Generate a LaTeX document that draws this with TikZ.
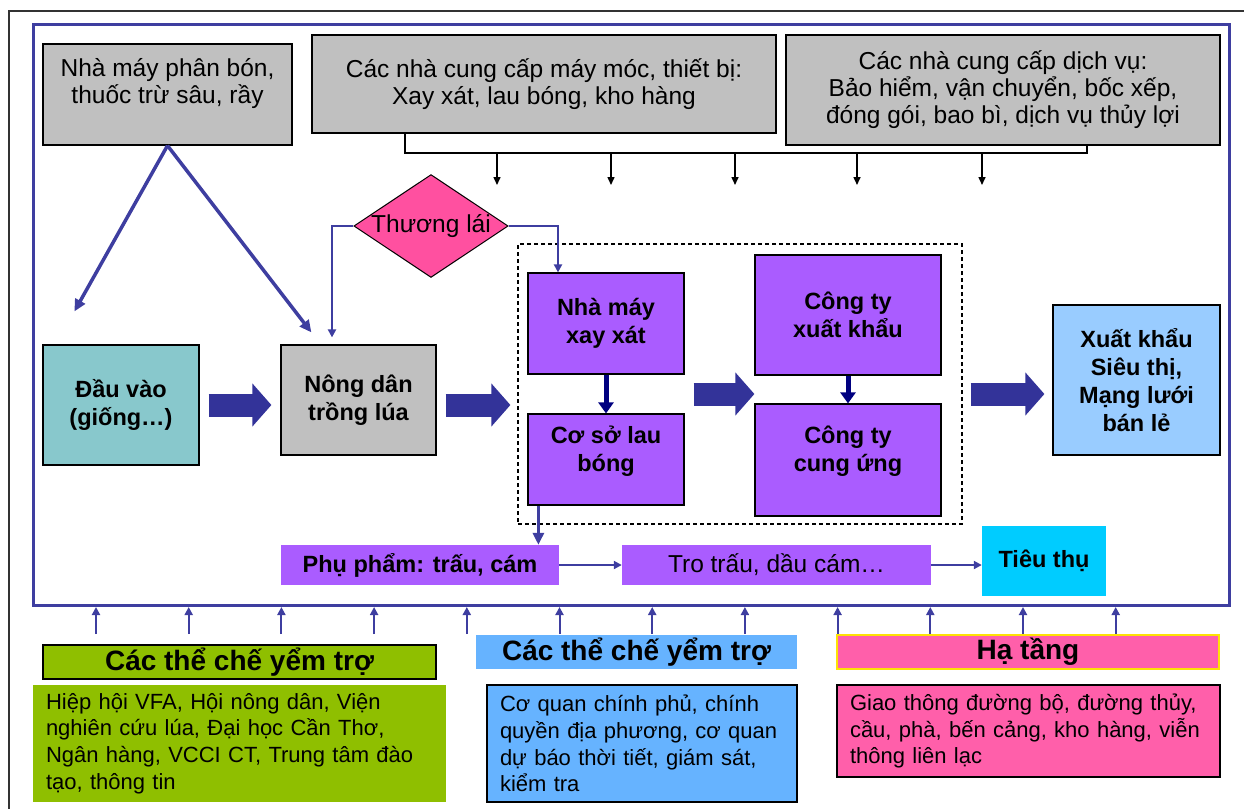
\documentclass[tikz,border=0pt]{standalone}
\usepackage{fontspec}
\setmainfont{Liberation Sans}
\usetikzlibrary{shapes.geometric,arrows.meta,calc}

\definecolor{boxgray}{RGB}{192,192,192}
\definecolor{seedteal}{RGB}{136,200,204}
\definecolor{millpurple}{RGB}{170,92,255}
\definecolor{retailblue}{RGB}{153,204,255}
\definecolor{usecyan}{RGB}{0,204,255}
\definecolor{traderpink}{RGB}{255,80,160}
\definecolor{infrapink}{RGB}{255,95,170}
\definecolor{supgreen}{RGB}{143,191,0}
\definecolor{govblue}{RGB}{102,179,255}
\definecolor{frameblue}{RGB}{62,62,160}
\definecolor{blockblue}{RGB}{51,51,153}
\definecolor{navyline}{RGB}{0,0,128}

\tikzset{
  normtext/.style={font=\fontsize{24.5}{27}\selectfont},
  boldtext/.style={font=\fontsize{23.5}{28}\selectfont\bfseries},
  box/.style={draw=black, line width=1.2pt, inner sep=2pt, align=center, normtext},
  bbox/.style={box, boldtext},
  plainbox/.style={inner sep=2pt, align=center},
  lbl/.style={inner sep=0pt, line width=1.2pt, align=center, font=\fontsize{28}{30}\selectfont\bfseries},
  body/.style={inner xsep=0pt, inner ysep=2pt, line width=1.2pt, align=left, font=\fontsize{22}{26.7}\selectfont},
  blockarr/.style={draw=blockblue, line width=23pt, -{Triangle[length=19pt,width=42pt]}},
  thinarr/.style={draw=frameblue, line width=2pt, -{Triangle[length=8pt,width=8pt]}},
  fatarr/.style={draw=frameblue, line width=3.5pt, -{Triangle[length=12pt,width=11pt]}},
  navyarr/.style={draw=navyline, line width=5pt, -{Triangle[length=11pt,width=15pt]}},
  blackarr/.style={draw=black, line width=1.5pt, -{Triangle[length=8pt,width=7pt]}}
}

\begin{document}
\begin{tikzpicture}[x=1pt,y=-1pt]
\useasboundingbox (0,0) rectangle (1244,809);
\draw[line width=1.2pt, black!80] (1244,11) -- (9,11) -- (9,809);
\node[draw=frameblue, line width=3pt, minimum width=1196, minimum height=581, inner sep=0] (frame) at (631,314.5) {};

\node[box, fill=boxgray, minimum width=249, minimum height=101] (nmpb) at (167.5,94.5) {Nhà máy phân bón,\\ thuốc trừ sâu, rầy\\ \mbox{}};
\node[box, fill=boxgray, minimum width=464, minimum height=98] (mmtb) at (544,84) {Các nhà cung cấp máy móc, thiết bị:\\ Xay xát, lau bóng, kho hàng};
\node[box, fill=boxgray, minimum width=434, minimum height=110] (dvu) at (1003,90) {Các nhà cung cấp dịch vụ:\\ Bảo hiểm, vận chuyển, bốc xếp,\\ đóng gói, bao bì, dịch vụ thủy lợi};

\coordinate (brL) at (405,153);
\coordinate (brR) at (1087,153);
\draw[line width=2.5pt] (mmtb.south -| brL) -- (brL) -- (brR) -- (dvu.south -| brR);
\foreach \x in {497,611,735,857,982}
  \draw[blackarr] (\x,153) -- (\x,185);

\node[diamond, aspect=1.5, draw=black, line width=1pt, fill=traderpink, minimum width=154, minimum height=102, inner sep=0, normtext] (tl) at (431,226) {Thương lái};

\node[bbox, fill=seedteal, minimum width=156, minimum height=120] (dauvao) at (121,405) {Đầu vào\\ (giống…)};
\node[bbox, fill=boxgray, minimum width=155, minimum height=110] (nongdan) at (358.5,400) {Nông dân\\ trồng lúa};
\node[draw, line width=1.2pt, dash pattern=on 4pt off 3pt, minimum width=444, minimum height=280, inner sep=0] (chain) at (740,384) {};
\node[bbox, fill=millpurple, minimum width=156, minimum height=101] (xayxat) at (606,323.5) {Nhà máy\\ xay xát};
\node[bbox, fill=millpurple, minimum width=156, minimum height=91] (laubong) at (606,459.5) {Cơ sở lau\\ bóng\\[-6pt]\mbox{}};
\node[bbox, fill=millpurple, minimum width=186, minimum height=120] (xuatkhau) at (848,315) {Công ty\\ xuất khẩu};
\node[bbox, fill=millpurple, minimum width=186, minimum height=112] (cungung) at (848,460) {Công ty\\ cung ứng\\[-5pt]\mbox{}};
\node[bbox, fill=retailblue, minimum width=167, minimum height=150] (banle) at (1136.5,380) {Xuất khẩu\\ Siêu thị,\\ Mạng lưới\\ bán lẻ};

\node[plainbox, boldtext, fill=millpurple, minimum width=278, minimum height=40] (phupham) at (420,565) {Phụ phẩm: trấu, cám};
\node[plainbox, normtext, fill=millpurple, minimum width=309, minimum height=40] (trotrau) at (776.5,565) {Tro trấu, dầu cám…};
\node[plainbox, boldtext, fill=usecyan, minimum width=124, minimum height=70] (tieuthu) at (1044,561) {Tiêu thụ};

\draw[fatarr] (nmpb.south) -- ($(dauvao.north west)+(32,-33)$);
\draw[fatarr] (nmpb.south) -- ($(nongdan.north west)+(31,-12)$);
\draw[thinarr] (tl.west) -| ([xshift=-26.5pt, yshift=7pt]nongdan.north);
\draw[thinarr] (tl.east) -| ([xshift=-48pt]xayxat.north);

\coordinate (midrow) at ($(xayxat.south)!0.5!(laubong.north)$);
\draw[blockarr, shorten <=9pt, shorten >=9pt] (dauvao.east) -- (dauvao.east -| nongdan.west);
\draw[blockarr, shorten <=9pt, shorten >=7pt] (dauvao.east -| nongdan.east) -- (dauvao.east -| chain.west);
\draw[blockarr, shorten <=9pt] (midrow -| xayxat.east) -- (midrow -| xuatkhau.west);
\draw[blockarr, shorten <=8pt, shorten >=8pt] (midrow -| chain.east) -- (midrow -| banle.west);
\draw[navyarr] (xayxat) -- (laubong);
\draw[navyarr] (xuatkhau) -- (cungung);

\coordinate (lbfoot) at ([xshift=11pt]laubong.south west);
\draw[fatarr] (lbfoot) -- (lbfoot |- phupham.north);
\draw[thinarr] (phupham.east) -- (trotrau.west);
\draw[thinarr] (trotrau.east) -- (trotrau.east -| tieuthu.west);

\foreach \i in {0,...,11}
  \draw[thinarr] ({96+92.7*\i},634) -- ++(0,-27);

\node[lbl, draw=black, fill=supgreen, minimum width=393, minimum height=34] (lblA) at (239.5,662) {Các thể chế yểm trợ};
\node[body, fill=supgreen, minimum width=413, minimum height=117, text width=387] (bodyA) at (239.5,743.5) {Hiệp hội VFA, Hội nông dân, Viện\\ nghiên cứu lúa, Đại học Cần Thơ,\\ Ngân hàng, VCCI CT, Trung tâm đào\\ tạo, thông tin};
\node[lbl, fill=govblue, minimum width=321, minimum height=34] (lblB) at (636.5,652) {Các thể chế yểm trợ};
\node[body, draw=black, fill=govblue, minimum width=310, minimum height=117, text width=284] (bodyB) at (642,743.5) {Cơ quan chính phủ, chính\\ quyền địa phương, cơ quan\\ dự báo thời tiết, giám sát,\\ kiểm tra};
\node[lbl, draw=yellow!85!orange, fill=infrapink, minimum width=382, minimum height=34] (lblC) at (1028,652) {Hạ tầng};
\node[body, draw=black, fill=infrapink, minimum width=383, minimum height=92, text width=357] (bodyC) at (1028.5,731) {Giao thông đường bộ, đường thủy,\\ cầu, phà, bến cảng, kho hàng, viễn\\ thông liên lạc};
\end{tikzpicture}
\end{document}
